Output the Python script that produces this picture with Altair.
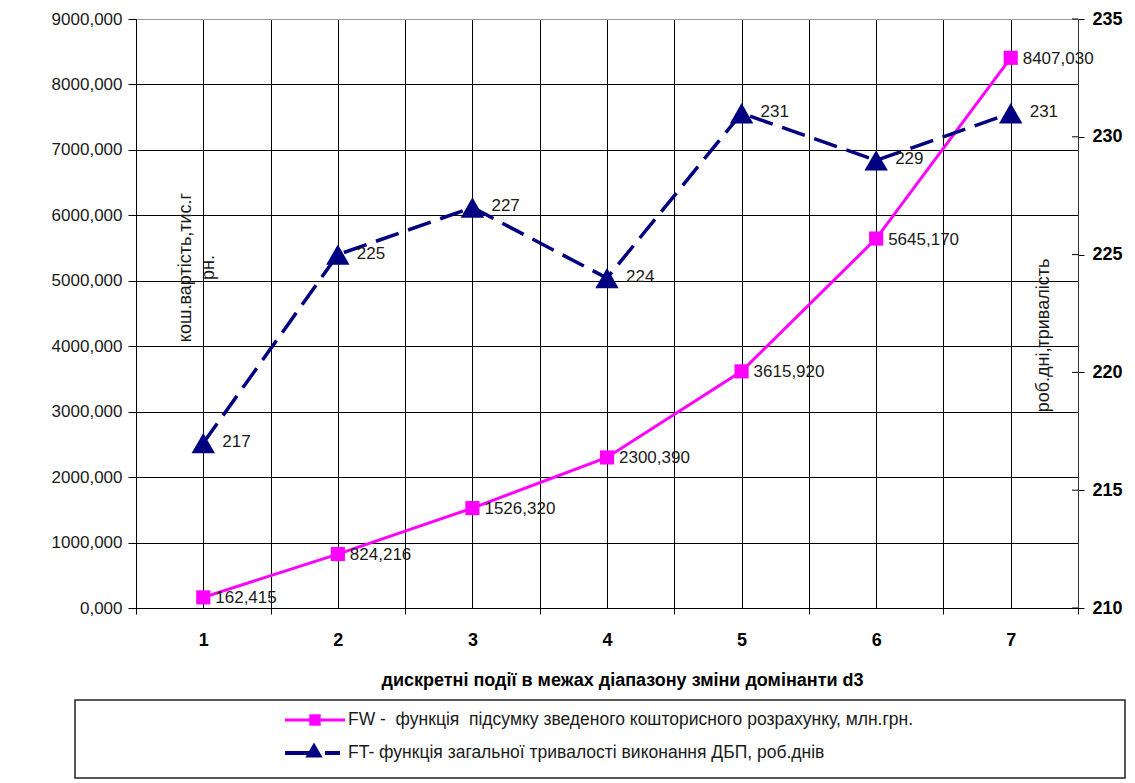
import altair as alt
import pandas as pd

# ---- data -------------------------------------------------------------
events = [1, 2, 3, 4, 5, 6, 7]
fw_values = [162.415, 824.216, 1526.320, 2300.390, 3615.920, 5645.170, 8407.030]
ft_values = [217, 225, 227, 224, 231, 229, 231]

cost_ticks = [0, 1000, 2000, 3000, 4000, 5000, 6000, 7000, 8000, 9000]
days_ticks = [210, 215, 220, 225, 230, 235]
event_grid = [0.5, 1, 1.5, 2, 2.5, 3, 3.5, 4, 4.5, 5, 5.5, 6, 6.5, 7, 7.5]

NB = "\u00a0"
x_title = "дискретні події в межах діапазону зміни домінанти d3"
cost_title = ["кош.вартість,тис.г", "рн."]
days_title = "роб.дні,тривалість"
fw_legend = "FW -" + NB + " функція" + NB + " підсумку зведеного кошторисного розрахунку, млн.грн."
ft_legend = "FT- функція загальної тривалості виконання ДБП, роб.днів"

# ---- styling ----------------------------------------------------------
W, H = 942, 589
FONT = "Liberation Sans"
PINK = "#FF00FF"
NAVY = "#000080"
LABEL = "#1a1a1a"

df = pd.DataFrame({"event": events, "fw": fw_values, "ft": ft_values})
df_right_ticks = pd.DataFrame({"ft": days_ticks})

x_enc = alt.X(
    "event:Q",
    scale=alt.Scale(domain=[0.5, 7.5], nice=False, zero=False),
    axis=alt.Axis(
        values=event_grid,
        labelExpr="datum.value % 1 === 0 ? format(datum.value, 'd') : ''",
        grid=True,
        gridColor="#000000",
        gridWidth=1,
        domainColor="#000000",
        tickColor="#000000",
        tickSize=6,
        tickOpacity={"condition": {"test": "datum.value % 1 !== 0", "value": 1}, "value": 0},
        labelFontSize=18,
        labelFontWeight="bold",
        labelColor="#000000",
        labelPadding=17,
        title=x_title,
        titleFontSize=18,
        titleFontWeight="bold",
        titleColor="#000000",
        titlePadding=22,
        titleX=486,
        titleAlign="center",
    ),
)

y_fw = alt.Y(
    "fw:Q",
    scale=alt.Scale(domain=[0, 9000], nice=False),
    axis=alt.Axis(
        values=cost_ticks,
        labelExpr="replace(format(datum.value, '.3f'), '.', ',')",
        grid=True,
        gridColor={"condition": {"test": "datum.value === 9000", "value": "#999999"}, "value": "#000000"},
        gridWidth=1,
        domainColor="#000000",
        tickColor="#000000",
        tickSize=8,
        labelFontSize=17,
        labelColor=LABEL,
        labelPadding=6,
        title=cost_title,
        titleAngle=270,
        titleAlign="center",
        titleBaseline="middle",
        titleX=49,
        titleY=248,
        titleFontSize=18,
        titleFontWeight="normal",
        titleColor=LABEL,
        titleLineHeight=23,
    ),
)

y_ft = alt.Y(
    "ft:Q",
    scale=alt.Scale(domain=[210, 235], nice=False, zero=False),
    axis=alt.Axis(
        orient="right",
        values=days_ticks,
        format="d",
        grid=False,
        domainColor="#333333",
        tickColor="#000000",
        tickSize=6,
        labelFontSize=18,
        labelFontWeight="bold",
        labelColor="#000000",
        labelPadding=8,
        title=days_title,
        titleAngle=270,
        titleAlign="center",
        titleBaseline="middle",
        titleX=-35,
        titleY=316,
        titleFontSize=18,
        titleFontWeight="normal",
        titleColor=LABEL,
    ),
)

base = alt.Chart(df)

# ---- cost series (left axis) -------------------------------------------
fw_line = base.mark_line(color=PINK, strokeWidth=3).encode(x=x_enc, y=y_fw)
fw_pts = base.mark_point(shape="square", filled=True, size=200, color=PINK, opacity=1).encode(x=x_enc, y=y_fw)
fw_lbl = base.transform_calculate(
    fw_label="replace(format(datum.fw, '.3f'), '.', ',')"
).mark_text(align="left", baseline="middle", dx=12, dy=1, fontSize=17, color=LABEL).encode(
    x=x_enc, y=y_fw, text="fw_label:N"
)
fw_group = alt.layer(fw_line, fw_pts, fw_lbl)

# ---- duration series (right axis) --------------------------------------
ft_line = base.mark_line(color=NAVY, strokeWidth=3.5, strokeDash=[24, 10]).encode(x=x_enc, y=y_ft)
ft_pts = base.mark_point(shape="triangle-up", filled=True, size=550, color=NAVY, opacity=1).encode(x=x_enc, y=y_ft)
ft_lbl = base.mark_text(align="left", baseline="middle", dx=19, dy=-1, fontSize=17, color=LABEL).encode(
    x=x_enc, y=y_ft, text="ft:Q"
)
# inner half of the right-axis ticks
ft_inner_ticks = alt.Chart(df_right_ticks).mark_rule(color="#000000", strokeWidth=1).encode(
    x=alt.value(W - 6), x2=alt.value(W), y=y_ft
)
ft_group = alt.layer(ft_line, ft_pts, ft_lbl, ft_inner_ticks)

# ---- legend box ---------------------------------------------------------
leg = alt.Chart(pd.DataFrame({"k": [0]}))
frame = leg.mark_rect(fill="white", stroke="#222222", strokeWidth=1.5).encode(
    x=alt.value(-61), x2=alt.value(989), y=alt.value(681), y2=alt.value(759)
)
leg_fw_line = leg.mark_rule(color=PINK, strokeWidth=3).encode(
    x=alt.value(149), x2=alt.value(209), y=alt.value(701)
)
leg_fw_pt = leg.mark_point(shape="square", filled=True, size=130, color=PINK, opacity=1).encode(
    x=alt.value(179), y=alt.value(701)
)
leg_fw_txt = leg.mark_text(align="left", baseline="middle", fontSize=17.5, color=LABEL).encode(
    x=alt.value(212), y=alt.value(701), text=alt.value(fw_legend)
)
leg_ft_line = leg.mark_rule(color=NAVY, strokeWidth=4).encode(
    x=alt.value(149), x2=alt.value(174), y=alt.value(734)
)
leg_ft_dash = leg.mark_rule(color=NAVY, strokeWidth=4).encode(
    x=alt.value(189), x2=alt.value(204), y=alt.value(734)
)
leg_ft_pt = leg.mark_point(shape="triangle-up", filled=True, size=300, color=NAVY, opacity=1).encode(
    x=alt.value(178), y=alt.value(731)
)
leg_ft_txt = leg.mark_text(align="left", baseline="middle", fontSize=17.5, color=LABEL).encode(
    x=alt.value(212), y=alt.value(734), text=alt.value(ft_legend)
)

chart = (
    alt.layer(
        fw_group,
        ft_group,
        frame,
        leg_fw_line,
        leg_fw_pt,
        leg_fw_txt,
        leg_ft_line,
        leg_ft_dash,
        leg_ft_pt,
        leg_ft_txt,
    )
    .resolve_scale(y="independent")
    .properties(
        width=W,
        height=H,
        autosize=alt.AutoSizeParams(type="none"),
        padding={"left": 136, "top": 19, "right": 57, "bottom": 175},
        background="white",
    )
    .configure(font=FONT)
    .configure_view(strokeWidth=0)
)

chart.save("out.html", embed_options={"renderer": "svg", "actions": False})
